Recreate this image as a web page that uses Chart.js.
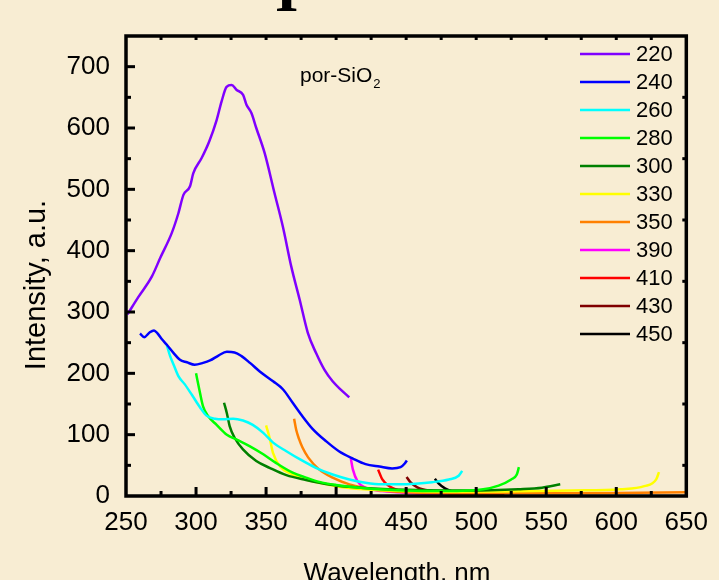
<!DOCTYPE html>
<html>
<head>
<meta charset="utf-8">
<script src="https://cdn.jsdelivr.net/npm/chart.js@4.4.1/dist/chart.umd.min.js"></script>
<style>
  body { margin: 0; background: #f8edd3; }
  #wrap { position: relative; width: 719px; height: 580px; overflow: hidden; background: #f8edd3; }
  #cap { position: absolute; left: 275px; top: -39px; font: bold 60px "Liberation Serif", serif; line-height: 60px; color: #000; }
</style>
</head>
<body>
<div id="wrap">
  <canvas id="chart"></canvas>
  <div id="cap">I</div>
</div>
<script>
// excitation wavelengths (legend) and their colours
const excitation = ['220', '240', '260', '280', '300', '330', '350', '390', '410', '430', '450']
const colors = ['#8000ff', '#0000ff', '#00ffff', '#00ff00', '#008000', '#ffff00', '#ff8000', '#ff00ff', '#ff0000', '#800000', '#000000']

// emission spectra, wavelength (nm) / intensity (a.u.)
const wl220 = [251, 259, 268.5, 274.4, 282.7, 287.4, 291, 295.7, 298, 304, 309.4, 314.7, 318.2, 321.8, 325.4, 329, 333.6, 336, 339.6, 343, 349, 356, 362, 368, 374, 379.8, 385.7, 391.6, 397.5, 403.5, 409.4]
const int220 = [296, 325, 358, 388, 429, 461, 491, 505, 526, 551, 578, 613, 643, 667, 670, 662, 654, 638, 624, 600, 559, 494, 439, 374, 320, 266, 233, 206, 187, 173, 161]

const wl240 = [260, 263, 267, 270, 272.5, 275.5, 279, 284, 288.5, 293.5, 299, 305, 310, 316, 322, 327.5, 332.5, 338.5, 345.5, 355, 362, 369, 375, 383, 393, 402, 412, 421, 431, 440, 446, 449, 450.5]
const int240 = [265, 259, 267, 270, 265, 256, 247, 233, 222, 218, 214, 217, 221, 229, 235, 234, 228, 217, 203, 187, 174, 152, 133, 110, 89, 73, 61, 52, 48, 45, 47, 53, 58]

const wl260 = [279, 281.5, 284, 287.5, 292, 297, 303, 307.5, 313.5, 319.5, 326.5, 333.5, 340.5, 348, 355, 364.5, 374, 385.5, 397.5, 409.5, 421, 433, 445, 456.5, 468.5, 480.5, 487.5, 490]
const int260 = [247, 228, 214, 195, 182, 165, 144, 131, 126, 125, 126, 123, 116, 103, 87, 73, 60, 46, 35, 27, 21.5, 19, 19, 20, 22.5, 27, 33, 41]

const wl280 = [300, 302.3, 305, 308.7, 314.7, 322, 329, 338.5, 348, 357, 369, 378.5, 388, 400, 415, 430, 450, 470, 490, 505, 516, 525, 529, 530.5]
const int280 = [200, 174, 146, 130, 116, 100, 92, 81, 68, 54, 38, 30, 23, 18, 14, 11, 9, 8, 8.5, 11, 17, 27, 35, 47]

const wl300 = [320, 322, 324, 327.5, 333.5, 343, 352.5, 364.5, 378.5, 388, 400, 420, 450, 480, 510, 530, 547, 560]
const int300 = [152, 135, 114, 95, 76, 57, 46, 34, 26, 21.5, 17, 13, 10, 9, 9.5, 11, 13.5, 19]

const wl330 = [350, 352.5, 355, 360, 369, 378.5, 388, 400, 420, 450, 480, 520, 568, 603, 620, 628.5, 630.5]
const int330 = [115, 95, 70, 48, 35, 27, 21.5, 16, 11, 8, 7, 7.5, 9, 11, 16, 27, 39]

const wl350 = [370, 371.5, 373.5, 376, 380, 388, 397.5, 409.5, 426, 450, 500, 550, 600, 650]
const int350 = [126, 108, 93, 79, 63, 43, 30, 19, 11, 6, 4, 4.5, 5, 6]

const wl390 = [410.5, 412, 415.3, 421, 433, 445, 460, 480]
const int390 = [61, 43, 24, 13.5, 8, 6, 4, 3]

const wl410 = [430, 433, 438, 447, 459, 480, 500]
const int410 = [43, 27, 16, 8, 5, 3, 2.5]

const wl430 = [450.3, 453, 458, 468.5, 480, 500, 520]
const int430 = [31, 22.5, 14, 8, 5, 3.5, 3]

const wl450 = [470.5, 473.3, 478, 485, 492, 505, 520]
const int450 = [28, 20, 12, 6, 4, 3, 2.5]

const spectra = [
    [wl220, int220], [wl240, int240], [wl260, int260], [wl280, int280],
    [wl300, int300], [wl330, int330], [wl350, int350], [wl390, int390],
    [wl410, int410], [wl430, int430], [wl450, int450]
]

// axis ticks
const xLabels = [250, 300, 350, 400, 450, 500, 550, 600, 650]
const yLabels = [0, 100, 200, 300, 400, 500, 600, 700]
const xMinor = [275, 300, 325, 350, 375, 400, 425, 450, 475, 500, 525, 550, 575, 600, 625]
const yMinor = [50, 100, 150, 200, 250, 300, 350, 400, 450, 500, 550, 600, 650, 700]
const yRight = [50, 150, 250, 350, 450, 550, 650]

const FONT = 'Arial, "Liberation Sans", sans-serif'

const decor = {
    id: 'decor',
    afterDatasetsDraw(chart) {
        const { ctx, chartArea: a, scales: { x, y } } = chart
        const line = (x1, y1, x2, y2) => {
            ctx.beginPath()
            ctx.moveTo(x1, y1)
            ctx.lineTo(x2, y2)
            ctx.stroke()
        }
        ctx.save()
        ctx.strokeStyle = '#000'
        ctx.lineWidth = 3
        xMinor.forEach(v => {
            const px = x.getPixelForValue(v)
            line(px, a.bottom, px, a.bottom - (v % 50 === 0 ? 9 : 5))
            line(px, a.top, px, a.top + 4)
        })
        yMinor.forEach(v => {
            const py = y.getPixelForValue(v)
            line(a.left, py, a.left + (v % 100 === 0 ? 9 : 5), py)
        })
        yRight.forEach(v => {
            const py = y.getPixelForValue(v)
            line(a.right, py, a.right - 4, py)
        })
        ctx.lineWidth = 3.5
        ctx.strokeRect(a.left, a.top, a.right - a.left, a.bottom - a.top)
        ctx.restore()
    },
    afterDraw(chart) {
        const { ctx } = chart
        ctx.save()
        ctx.fillStyle = '#000'

        // legend
        ctx.font = `22px ${FONT}`
        ctx.textBaseline = 'middle'
        ctx.textAlign = 'left'
        chart.data.datasets.forEach((ds, i) => {
            const ly = 54 + i * 28
            ctx.strokeStyle = ds.borderColor
            ctx.lineWidth = 2.5
            ctx.beginPath()
            ctx.moveTo(580, ly)
            ctx.lineTo(630, ly)
            ctx.stroke()
            ctx.fillText(ds.label, 636, ly + 1)
        })

        // sample label
        ctx.textBaseline = 'alphabetic'
        ctx.font = `21px ${FONT}`
        ctx.fillText('por-SiO', 300, 82)
        const w = ctx.measureText('por-SiO').width
        ctx.font = `13px ${FONT}`
        ctx.fillText('2', 300 + w + 1, 88)

        // axis titles
        ctx.font = `26px ${FONT}`
        ctx.textAlign = 'center'
        ctx.fillText('Wavelength, nm', 397, 581)
        ctx.font = `29px ${FONT}`
        ctx.translate(45, 285)
        ctx.rotate(-Math.PI / 2)
        ctx.fillText('Intensity, a.u.', 0, 0)
        ctx.restore()
    }
}

new Chart(document.getElementById('chart'), {
    type: 'line',
    data: {
        datasets: spectra.map(([wl, val], i) => ({
            label: excitation[i],
            data: wl.map((v, j) => ({ x: v, y: val[j] })),
            borderColor: colors[i],
            backgroundColor: colors[i],
            borderWidth: 2.5,
            pointRadius: 0,
            cubicInterpolationMode: 'monotone',
            fill: false
        }))
    },
    options: {
        responsive: true,
        maintainAspectRatio: false,
        animation: false,
        layout: { padding: { top: 36, right: 30, left: 0, bottom: 0 } },
        plugins: {
            legend: { display: false },
            tooltip: { enabled: false }
        },
        scales: {
            x: {
                type: 'linear',
                min: 250,
                max: 650,
                grid: { display: false, drawTicks: false },
                border: { display: false },
                afterBuildTicks: s => { s.ticks = xLabels.map(v => ({ value: v })) },
                afterFit: s => { s.height = 84 },
                ticks: { color: '#000', padding: 11, maxRotation: 0, font: { family: FONT, size: 26 } }
            },
            y: {
                min: 0,
                max: 750,
                grid: { display: false, drawTicks: false },
                border: { display: false },
                afterBuildTicks: s => { s.ticks = yLabels.map(v => ({ value: v })) },
                afterFit: s => { s.width = 126 },
                ticks: { color: '#000', padding: 16, font: { family: FONT, size: 26 } }
            }
        }
    },
    plugins: [decor]
})
</script>
</body>
</html>
